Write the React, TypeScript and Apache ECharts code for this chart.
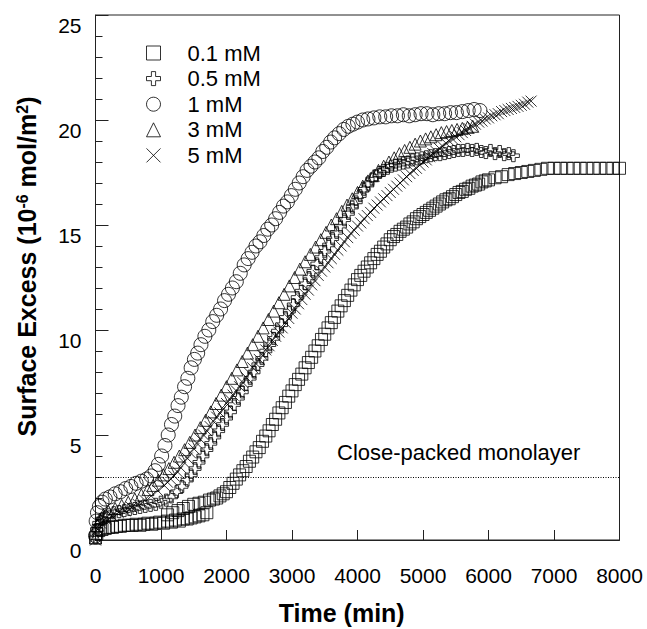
import React, { useEffect, useRef } from 'react';
import * as echarts from 'echarts';

const FONT = '"Liberation Sans", Arial, sans-serif';

const seriesNames = ['0.1 mM', '0.5 mM', '1 mM', '3 mM', '5 mM'];
const xTicks = { min: 0, max: 8000, interval: 1000 };
const yTicks = { min: 0, max: 25, interval: 5 };
const monolayerLevel = 3;

// 0.1 mM (squares)
const data01 = [
  [0,0.1],[20,0.3],[50,0.45],[100,0.5],[150,0.55],[200,0.6],[260,0.6],[320,0.65],[380,0.65],[440,0.7],[500,0.7],[560,0.7],[620,0.75],[680,0.7],[740,0.75],[800,0.8],[860,0.75],[920,0.8],[980,0.85],[1040,0.8],[1100,0.9],[1160,0.85],[1220,0.95],[1280,0.9],[1340,1.0],[1400,1.0],[1460,1.05],[1520,1.1],[1580,1.15],[1640,1.2],[1700,1.3],
  [1100,1.2],[1180,1.3],[1260,1.4],[1340,1.5],[1420,1.6],[1500,1.7],[1580,1.75],[1660,1.8],[1740,1.9],
  [1800,1.95],[1850,2.0],[1900,2.1],[1950,2.2],[2000,2.3],[2050,2.5],[2100,2.7],[2150,2.9],[2200,3.1],[2250,3.3],[2300,3.5],[2350,3.75],[2400,3.95],[2450,4.2],[2500,4.4],[2550,4.7],[2600,4.95],[2650,5.2],[2700,5.5],[2750,5.75],[2800,6.05],[2850,6.3],[2900,6.55],[2950,6.85],[3000,7.1],[3050,7.4],[3100,7.65],[3150,7.9],[3200,8.2],[3250,8.45],[3300,8.7],[3350,9.0],[3400,9.25],[3450,9.55],[3500,9.8],[3550,10.1],[3600,10.35],[3650,10.6],[3700,10.9],[3750,11.15],[3800,11.4],[3850,11.65],[3900,11.9],[3950,12.15],[4000,12.4],[4050,12.6],[4100,12.8],[4150,13.0],[4200,13.2],[4250,13.4],[4300,13.6],[4350,13.75],[4400,13.95],[4450,14.1],[4500,14.3],[4550,14.45],[4600,14.55],[4650,14.7],[4700,14.8],[4750,14.9],[4800,15.05],[4850,15.15],[4900,15.3],[4950,15.4],[5000,15.5],[5050,15.6],[5100,15.7],[5150,15.8],[5200,15.9],[5250,16.0],[5300,16.1],[5350,16.2],[5400,16.25],[5450,16.35],[5500,16.45],[5550,16.55],[5600,16.6],[5650,16.7],[5700,16.75],[5750,16.85],[5800,16.9],[5850,16.95],[5900,17.05],[5950,17.1],[6000,17.15],[6100,17.25],[6200,17.3],[6300,17.4],[6400,17.45],[6500,17.5],[6600,17.55],[6700,17.6],[6800,17.65],[6900,17.7],[7000,17.7],[7100,17.7],[7200,17.7],[7300,17.7],[7400,17.7],[7500,17.7],[7600,17.7],[7700,17.7],[7800,17.7],[7900,17.7],[8000,17.7],
];

// 0.5 mM (plus)
const data05 = [
  [0,0.1],[20,0.5],[50,0.8],[100,1.0],[150,1.1],[200,1.2],[280,1.3],[360,1.35],[440,1.4],[520,1.45],[600,1.5],[680,1.55],[760,1.6],[840,1.65],[920,1.7],[1000,1.8],[1080,1.9],[1160,2.05],[1240,2.3],[1320,2.55],[1400,2.85],[1460,3.1],[1520,3.4],[1580,3.7],[1640,4.0],[1700,4.3],[1760,4.6],[1820,4.9],[1880,5.2],[1940,5.5],[2000,5.8],[2060,6.1],[2120,6.45],[2180,6.75],[2240,7.05],[2300,7.4],[2360,7.7],[2420,8.0],[2480,8.35],[2540,8.65],[2600,9.0],[2660,9.3],[2720,9.6],[2780,9.95],[2840,10.25],[2900,10.6],[2960,10.9],[3020,11.2],[3080,11.55],[3140,11.85],[3200,12.2],[3260,12.5],[3320,12.8],[3380,13.15],[3440,13.45],[3500,13.75],[3560,14.05],[3620,14.35],[3680,14.65],[3740,14.95],[3800,15.25],[3860,15.55],[3920,15.85],[3980,16.1],[4040,16.4],[4100,16.7],[4160,16.95],[4220,17.2],[4280,17.35],[4340,17.5],[4400,17.6],[4460,17.7],[4520,17.8],[4580,17.85],[4640,17.9],[4700,17.95],[4770,18.0],[4840,18.1],[4910,18.15],[4980,18.2],[5050,18.25],[5120,18.3],[5190,18.35],[5260,18.35],[5330,18.4],[5400,18.45],[5470,18.5],[5540,18.55],[5610,18.55],[5680,18.6],[5750,18.55],[5820,18.6],[5890,18.5],[5960,18.45],[6030,18.55],[6100,18.4],[6170,18.5],[6240,18.35],[6310,18.4],[6380,18.3],
];

// 1 mM (circles)
const data1 = [
  [0,0.2],[10,0.9],[30,1.3],[60,1.6],[100,1.8],[150,1.95],[220,2.05],[300,2.2],[380,2.3],[460,2.45],[540,2.55],[620,2.7],[700,2.8],[780,2.9],[850,3.05],[910,3.3],[960,3.6],[1010,4.0],[1060,4.5],[1110,5.0],[1160,5.5],[1210,5.9],[1260,6.4],[1310,6.8],[1360,7.3],[1410,7.7],[1460,8.2],[1510,8.6],[1560,8.9],[1610,9.3],[1670,9.7],[1730,10.0],[1790,10.4],[1850,10.7],[1910,11.0],[1970,11.4],[2030,11.7],[2090,12.0],[2150,12.3],[2210,12.7],[2270,13.1],[2330,13.4],[2390,13.7],[2450,14.0],[2510,14.2],[2570,14.5],[2630,14.8],[2690,15.0],[2750,15.3],[2810,15.6],[2870,15.9],[2930,16.1],[2990,16.4],[3050,16.7],[3110,17.0],[3170,17.3],[3230,17.6],[3290,17.8],[3350,18.0],[3410,18.2],[3470,18.5],[3530,18.7],[3590,18.95],[3650,19.15],[3720,19.35],[3790,19.55],[3860,19.7],[3930,19.8],[4000,19.9],[4080,20.0],[4160,20.05],[4250,20.1],[4340,20.15],[4430,20.15],[4520,20.2],[4610,20.2],[4700,20.25],[4790,20.2],[4880,20.25],[4970,20.3],[5060,20.3],[5150,20.25],[5240,20.3],[5330,20.3],[5420,20.35],[5510,20.35],[5600,20.4],[5690,20.45],[5780,20.5],[5870,20.45],
];

// 3 mM (triangles)
const data3 = [
  [0,0.1],[30,0.7],[70,1.0],[120,1.2],[200,1.35],[300,1.5],[400,1.65],[500,1.8],[600,1.95],[700,2.15],[800,2.4],[880,2.6],[960,2.85],[1040,3.1],[1120,3.4],[1200,3.7],[1280,4.0],[1360,4.3],[1440,4.65],[1520,5.0],[1600,5.35],[1680,5.7],[1760,6.1],[1840,6.5],[1920,6.9],[2000,7.3],[2080,7.7],[2160,8.1],[2240,8.5],[2320,8.9],[2400,9.3],[2480,9.7],[2560,10.1],[2640,10.5],[2720,10.9],[2800,11.3],[2880,11.7],[2960,12.1],[3040,12.5],[3120,12.9],[3200,13.25],[3280,13.6],[3360,13.95],[3440,14.3],[3520,14.65],[3600,15.0],[3680,15.3],[3760,15.65],[3840,15.95],[3920,16.25],[4000,16.55],[4080,16.85],[4160,17.1],[4240,17.35],[4320,17.6],[4400,17.8],[4480,18.0],[4560,18.2],[4640,18.4],[4720,18.55],[4800,18.7],[4880,18.85],[4960,19.0],[5040,19.1],[5120,19.2],[5200,19.3],[5280,19.4],[5360,19.45],[5440,19.5],[5520,19.55],[5600,19.6],[5680,19.65],[5760,19.7],
];

// 5 mM (crosses)
const data5 = [
  [0,0.0],[30,0.5],[80,0.8],[150,1.0],[250,1.15],[350,1.3],[450,1.4],[550,1.55],[650,1.7],[750,1.9],[850,2.1],[950,2.35],[1050,2.6],[1100,2.75],[1150,2.9],[1200,3.05],[1250,3.25],[1300,3.45],[1350,3.7],[1400,3.9],[1450,4.15],[1500,4.35],[1550,4.6],[1600,4.8],[1650,5.0],[1700,5.2],[1750,5.4],[1800,5.65],[1850,5.85],[1900,6.05],[1950,6.25],[2000,6.5],[2050,6.7],[2100,6.9],[2150,7.1],[2200,7.3],[2250,7.5],[2300,7.75],[2350,7.95],[2400,8.2],[2450,8.4],[2500,8.6],[2550,8.8],[2600,9.05],[2650,9.25],[2700,9.5],[2750,9.7],[2800,9.9],[2850,10.1],[2900,10.35],[2950,10.55],[3000,10.8],[3050,11.0],[3100,11.25],[3150,11.45],[3200,11.7],[3250,11.9],[3300,12.15],[3350,12.35],[3400,12.6],[3450,12.8],[3500,13.0],[3550,13.2],[3600,13.4],[3650,13.6],[3700,13.8],[3750,14.0],[3800,14.2],[3850,14.4],[3900,14.6],[3950,14.75],[4000,14.95],[4050,15.1],[4100,15.3],[4150,15.45],[4200,15.6],[4250,15.8],[4300,15.95],[4350,16.1],[4400,16.25],[4450,16.4],[4500,16.55],[4550,16.7],[4600,16.85],[4650,17.0],[4700,17.15],[4750,17.3],[4800,17.45],[4850,17.6],[4900,17.7],[4950,17.85],[5000,18.0],[5050,18.1],[5100,18.25],[5150,18.4],[5200,18.5],[5250,18.65],[5300,18.75],[5350,18.9],[5400,19.0],[5450,19.1],[5500,19.2],[5550,19.3],[5600,19.4],[5650,19.5],[5700,19.6],[5750,19.7],[5800,19.8],[5850,19.9],[5900,19.95],[5950,20.05],[6000,20.1],[6050,20.2],[6100,20.25],[6150,20.3],[6200,20.4],[6250,20.45],[6300,20.5],[6350,20.55],[6400,20.6],[6450,20.65],[6500,20.7],[6550,20.75],[6600,20.85],[6650,20.9],
];

const PLUS = 'path://M3.5,0H6.5V3.5H10V6.5H6.5V10H3.5V6.5H0V3.5H3.5Z';
const CROSS = 'path://M0,0L10,10M10,0L0,10';

export default function App() {
  const ref = useRef<HTMLDivElement>(null);
  useEffect(() => {
    const chart = echarts.init(ref.current as HTMLDivElement, null, { renderer: 'svg' });
    const hollow = { color: 'rgba(0,0,0,0)', borderColor: '#000', borderWidth: 1 };
    const mk = (name: string, data: number[][], symbol: string, size: number, extra: any = {}) => ({
      type: 'scatter',
      name,
      data,
      symbol,
      symbolSize: size,
      itemStyle: hollow,
      silent: true,
      emphasis: { disabled: true },
      ...extra,
    });
    const axisColor = '#222';
    chart.setOption({
      animation: false,
      backgroundColor: '#fff',
      grid: { left: 95.5, top: 15, width: 524, height: 525, show: true, borderColor: axisColor, borderWidth: 1 },
      legend: {
        orient: 'vertical',
        left: 141,
        top: 37,
        itemWidth: 14,
        itemHeight: 14,
        itemGap: 3.6,
        selectedMode: false,
        data: seriesNames,
        itemStyle: { color: 'rgba(0,0,0,0)', borderColor: '#000', borderWidth: 1 },
        textStyle: { fontSize: 22, fontFamily: FONT, color: '#000', lineHeight: 22, padding: [0, 0, 0, 22] },
      },
      xAxis: {
        type: 'value',
        min: xTicks.min,
        max: xTicks.max,
        interval: xTicks.interval,
        axisLine: { onZero: false, lineStyle: { color: axisColor, width: 1 } },
        axisTick: { inside: true, length: 10, lineStyle: { color: axisColor } },
        splitLine: { show: false },
        axisLabel: { fontSize: 21, fontFamily: FONT, color: '#000', margin: 25, formatter: (v: number) => String(v) },
      },
      yAxis: {
        type: 'value',
        min: yTicks.min,
        max: yTicks.max,
        interval: yTicks.interval,
        axisLine: { show: true, lineStyle: { color: axisColor, width: 1 } },
        axisTick: { show: true, inside: true, length: 13, lineStyle: { color: axisColor } },
        minorTick: { show: true, splitNumber: 5, length: 7, lineStyle: { color: axisColor } },
        splitLine: { show: false },
        axisLabel: { fontSize: 21, fontFamily: FONT, color: '#000', margin: 14, verticalAlign: 'top', formatter: (v: number) => String(v) },
      },
      series: [
        mk(seriesNames[0], data01, 'rect', 12, {
          markLine: {
            silent: true,
            symbol: 'none',
            label: { show: false },
            lineStyle: { type: [1, 1.5], color: '#000', width: 1 },
            data: [{ yAxis: monolayerLevel }],
          },
        }),
        mk(seriesNames[1], data05, PLUS, 12),
        mk(seriesNames[2], data1, 'circle', 14),
        mk(seriesNames[3], data3, 'triangle', 12),
        mk(seriesNames[4], data5, CROSS, 11),
      ],
      graphic: [
        {
          type: 'text',
          x: 341.7,
          y: 613,
          silent: true,
          style: { text: 'Time (min)', fontSize: 25, fontWeight: 'bold', fontFamily: FONT, fill: '#000', align: 'center', verticalAlign: 'middle' },
        },
        {
          type: 'text',
          x: 27,
          y: 266.5,
          rotation: Math.PI / 2,
          silent: true,
          style: {
            text: '{n|Surface Excess (10}{s|-6}{n| mol/m}{s|2}{n|)}',
            align: 'center',
            verticalAlign: 'middle',
            rich: {
              n: { fontSize: 25, fontWeight: 'bold', fontFamily: FONT, fill: '#000' },
              s: { fontSize: 16, fontWeight: 'bold', fontFamily: FONT, fill: '#000', verticalAlign: 'top' },
            },
          },
        },
        {
          type: 'text',
          x: 337,
          y: 452,
          silent: true,
          style: { text: 'Close-packed monolayer', fontSize: 22, fontFamily: FONT, fill: '#000', verticalAlign: 'middle' },
        },
      ],
    });
    return () => chart.dispose();
  }, []);
  return <div ref={ref} style={{ position: 'fixed', left: 0, top: 0, width: 647, height: 629, background: '#fff' }} />;
}
